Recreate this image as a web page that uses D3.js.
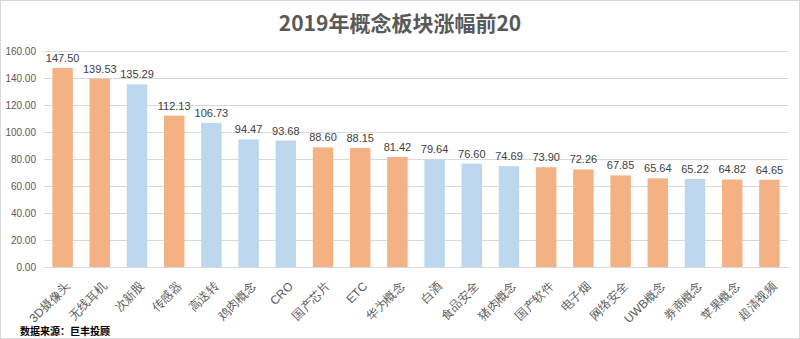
<!DOCTYPE html>
<html>
<head>
<meta charset="utf-8">
<script src="https://cdn.jsdelivr.net/npm/d3@7"></script>
<style>
  body { margin: 0; background: #fff; }
  svg { display: block; font-family: "Noto Sans CJK SC", "Noto Sans", sans-serif; }
</style>
</head>
<body>
<div id="chart"></div>
<script>
// chart data
const categories = ["3D摄像头", "无线耳机", "次新股", "传感器", "高送转", "鸡肉概念", "CRO", "国产芯片", "ETC", "华为概念",
  "白酒", "食品安全", "猪肉概念", "国产软件", "电子烟", "网络安全", "UWB概念", "券商概念", "苹果概念", "超清视频"];
const values = [147.50, 139.53, 135.29, 112.13, 106.73, 94.47, 93.68, 88.60, 88.15, 81.42,
  79.64, 76.60, 74.69, 73.90, 72.26, 67.85, 65.64, 65.22, 64.82, 64.65];
const groups = ["o", "o", "b", "o", "b", "b", "b", "o", "o", "o",
  "b", "b", "b", "o", "o", "o", "o", "b", "o", "o"];
const yTicks = [0, 20, 40, 60, 80, 100, 120, 140, 160];

const width = 800, height = 339;
const margin = { top: 51, right: 12, bottom: 72, left: 44 };
const colors = { o: "#F4B183", b: "#BDD7EE" };

const svg = d3.select("#chart").append("svg")
  .attr("width", width)
  .attr("height", height);

// outer border
svg.append("rect")
  .attr("x", 0.5).attr("y", 0.5)
  .attr("width", width - 1).attr("height", height - 1)
  .attr("fill", "#fff").attr("stroke", "#d9d9d9");

const x = d3.scaleBand()
  .domain(categories)
  .range([margin.left, width - margin.right])
  .paddingInner(0.45)
  .paddingOuter(0.225);

const y = d3.scaleLinear()
  .domain([0, 160])
  .range([height - margin.bottom, margin.top]);

// title
svg.append("text")
  .attr("x", width / 2).attr("y", 31)
  .attr("text-anchor", "middle")
  .attr("font-size", 21).attr("font-weight", "bold")
  .attr("fill", "#595959")
  .text("2019年概念板块涨幅前20");

// gridlines + y labels
const yAxis = svg.append("g")
  .attr("transform", `translate(${margin.left},0)`)
  .call(d3.axisLeft(y).tickValues(yTicks).tickFormat(d3.format(".2f"))
    .tickSize(-(width - margin.left - margin.right)).tickPadding(8));
yAxis.select(".domain").remove();
yAxis.selectAll(".tick line").attr("stroke", "#d9d9d9");
yAxis.selectAll(".tick text")
  .attr("font-size", 10).attr("fill", "#595959")
  .attr("font-family", "Liberation Sans, Arial, sans-serif");

// bars
svg.append("g").selectAll("rect")
  .data(values)
  .join("rect")
  .attr("x", (d, i) => x(categories[i]))
  .attr("y", d => y(d))
  .attr("width", x.bandwidth())
  .attr("height", d => y(0) - y(d))
  .attr("fill", (d, i) => colors[groups[i]]);

// value labels
svg.append("g").selectAll("text")
  .data(values)
  .join("text")
  .attr("x", (d, i) => x(categories[i]) + x.bandwidth() / 2)
  .attr("y", d => y(d) - 6)
  .attr("text-anchor", "middle")
  .attr("font-size", 11)
  .attr("font-family", "Liberation Sans, Arial, sans-serif")
  .attr("fill", "#404040")
  .text(d => d.toFixed(2));

// x axis
const xAxis = svg.append("g")
  .attr("transform", `translate(0,${y(0)})`)
  .call(d3.axisBottom(x).tickSize(0).tickPadding(0));
xAxis.select(".domain").attr("stroke", "#d9d9d9");
xAxis.selectAll(".tick text")
  .attr("font-size", 12)
  .attr("fill", "#595959")
  .attr("text-anchor", "end")
  .attr("dy", "0.35em")
  .attr("transform", "translate(5,17) rotate(-45)");

// source note
svg.append("text")
  .attr("x", 20).attr("y", 335)
  .attr("font-size", 10).attr("font-weight", "bold")
  .attr("fill", "#000")
  .text("数据来源：巨丰投顾");
</script>
</body>
</html>
